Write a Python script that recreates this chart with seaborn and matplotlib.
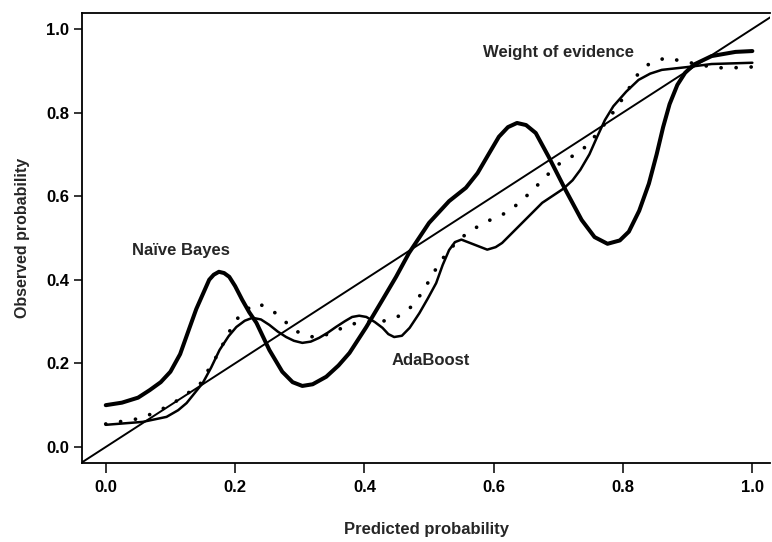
import matplotlib
matplotlib.use('Agg')
import matplotlib.pyplot as plt
import seaborn as sns
import pandas as pd

# Calibration curves
nb_x = [0.000, 0.025, 0.050, 0.068, 0.085, 0.100, 0.115, 0.130, 0.140, 0.150, 0.160,
        0.167, 0.175, 0.183, 0.191, 0.200, 0.211, 0.222, 0.233, 0.253, 0.273, 0.289,
        0.304, 0.320, 0.341, 0.360, 0.377, 0.403, 0.428, 0.449, 0.469, 0.500, 0.531,
        0.557, 0.575, 0.592, 0.608, 0.622, 0.636, 0.650, 0.665, 0.685, 0.711, 0.736,
        0.756, 0.776, 0.795, 0.809, 0.825, 0.840, 0.852, 0.862, 0.872, 0.884, 0.896,
        0.910, 0.937, 0.974, 1.000]
nb_y = [0.100, 0.106, 0.118, 0.136, 0.155, 0.180, 0.222, 0.287, 0.330, 0.365, 0.400,
        0.412, 0.419, 0.416, 0.407, 0.385, 0.352, 0.322, 0.297, 0.232, 0.180, 0.155,
        0.146, 0.150, 0.168, 0.195, 0.225, 0.287, 0.352, 0.407, 0.464, 0.536, 0.588,
        0.620, 0.655, 0.700, 0.742, 0.765, 0.775, 0.770, 0.751, 0.694, 0.615, 0.543,
        0.502, 0.486, 0.494, 0.515, 0.565, 0.630, 0.700, 0.765, 0.820, 0.866, 0.895,
        0.915, 0.935, 0.945, 0.947]

ada_x = [0.000, 0.057, 0.094, 0.112, 0.125, 0.150, 0.163, 0.176, 0.190, 0.202, 0.215,
         0.227, 0.240, 0.253, 0.266, 0.279, 0.291, 0.304, 0.317, 0.330, 0.343, 0.356,
         0.370, 0.381, 0.392, 0.403, 0.416, 0.428, 0.437, 0.446, 0.458, 0.470, 0.485,
         0.498, 0.511, 0.521, 0.531, 0.540, 0.550, 0.570, 0.590, 0.603, 0.613, 0.644,
         0.675, 0.708, 0.722, 0.734, 0.748, 0.760, 0.772, 0.785, 0.805, 0.824, 0.842,
         0.860, 0.901, 0.937, 1.000]
ada_y = [0.053, 0.060, 0.072, 0.088, 0.105, 0.153, 0.190, 0.232, 0.265, 0.287, 0.302,
         0.309, 0.305, 0.292, 0.276, 0.263, 0.254, 0.249, 0.252, 0.261, 0.273, 0.287,
         0.301, 0.311, 0.314, 0.311, 0.299, 0.285, 0.270, 0.263, 0.266, 0.285, 0.320,
         0.355, 0.392, 0.435, 0.471, 0.490, 0.496, 0.484, 0.472, 0.478, 0.488, 0.536,
         0.584, 0.618, 0.638, 0.663, 0.700, 0.742, 0.782, 0.815, 0.850, 0.878, 0.893,
         0.902, 0.909, 0.916, 0.919]

woe_x = [0.000, 0.056, 0.100, 0.145, 0.157, 0.171, 0.184, 0.196, 0.211, 0.235, 0.258,
         0.278, 0.299, 0.325, 0.350, 0.375, 0.401, 0.427, 0.451, 0.474, 0.490, 0.516,
         0.532, 0.551, 0.574, 0.597, 0.622, 0.643, 0.662, 0.680, 0.699, 0.722, 0.744,
         0.768, 0.793, 0.807, 0.821, 0.840, 0.866, 0.891, 0.943, 0.971, 1.000]
woe_y = [0.055, 0.069, 0.100, 0.148, 0.180, 0.216, 0.254, 0.290, 0.323, 0.344, 0.326,
         0.299, 0.273, 0.261, 0.273, 0.292, 0.300, 0.300, 0.311, 0.337, 0.371, 0.440,
         0.473, 0.502, 0.526, 0.545, 0.562, 0.589, 0.617, 0.646, 0.675, 0.696, 0.720,
         0.765, 0.818, 0.852, 0.888, 0.916, 0.931, 0.923, 0.907, 0.907, 0.909]

ticks = [0.0, 0.2, 0.4, 0.6, 0.8, 1.0]
tick_labels = ["0.0", "0.2", "0.4", "0.6", "0.8", "1.0"]

sns.set_style("ticks")
plt.rcParams['font.family'] = ['Liberation Sans', 'DejaVu Sans']

fig = plt.figure(figsize=(7.72, 5.42), dpi=100)
ax = fig.add_axes([0.106, 0.146, 0.892, 0.830])

nb = pd.DataFrame({'x': nb_x, 'y': nb_y})
ada = pd.DataFrame({'x': ada_x, 'y': ada_y})
woe = pd.DataFrame({'x': woe_x, 'y': woe_y})

# identity line
ax.axline((0, 0), slope=1, color='black', lw=1.4)
sns.lineplot(data=nb, x='x', y='y', ax=ax, color='black', lw=2.9,
             sort=False, estimator=None, solid_capstyle='round',
             solid_joinstyle='round')
sns.lineplot(data=ada, x='x', y='y', ax=ax, color='black', lw=1.8,
             sort=False, estimator=None, solid_capstyle='round',
             solid_joinstyle='round')
sns.lineplot(data=woe, x='x', y='y', ax=ax, color='black', lw=2.7,
             sort=False, estimator=None, linestyle=(0, (0.01, 4.0)),
             dash_capstyle='round')

ax.text(0.117, 0.471, "Naïve Bayes", ha='center', va='center', fontsize=12,
        fontweight='bold')
ax.text(0.503, 0.208, "AdaBoost", ha='center', va='center', fontsize=12,
        fontweight='bold')
ax.text(0.700, 0.943, "Weight of evidence", ha='center', va='center', fontsize=12,
        fontweight='bold')

ax.set_xlim(-0.037, 1.028)
ax.set_ylim(-0.038, 1.038)
ax.set_xticks(ticks)
ax.set_xticklabels(tick_labels, fontsize=12, fontweight='bold')
ax.set_yticks(ticks)
ax.set_yticklabels(tick_labels, fontsize=12, fontweight='bold')
ax.tick_params(axis='x', direction='out', length=7, width=1.1, pad=5, colors='black')
ax.tick_params(axis='y', direction='out', length=6, width=1.1, pad=3, colors='black')

ax.set_xlabel("Predicted probability", fontsize=12, fontweight='bold', labelpad=20)
ax.set_ylabel("Observed probability", fontsize=11.5, fontweight='bold', labelpad=12)

ax.spines['right'].set_visible(False)
for side in ['left', 'top', 'bottom']:
    ax.spines[side].set_linewidth(1.3)
    ax.spines[side].set_color('black')

fig.savefig("out.png", dpi=100)
plt.close(fig)
